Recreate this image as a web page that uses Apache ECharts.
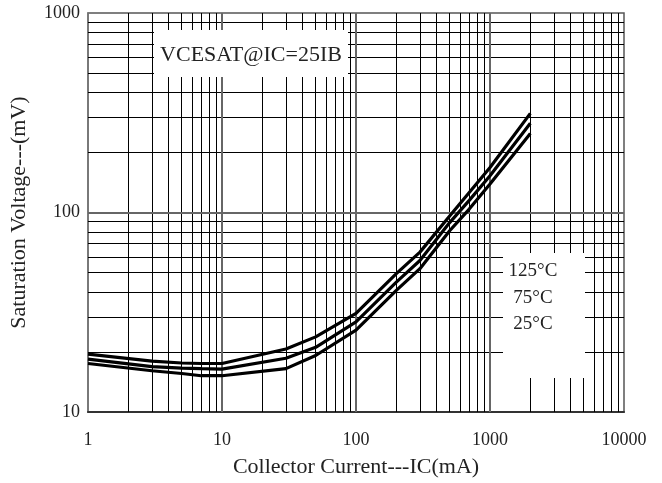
<!DOCTYPE html>
<html>
<head>
<meta charset="utf-8">
<script src="https://cdn.jsdelivr.net/npm/echarts@6/dist/echarts.min.js"></script>
<style>html,body{margin:0;padding:0;background:#fff;}#c{width:662px;height:483px;}</style>
</head>
<body>
<div id="c"></div>
<script>
const currents = [1, 3, 5, 7, 10, 30, 50, 100, 200, 300, 500, 700, 1000, 2000];
const v125 = [19.5, 18.0, 17.6, 17.5, 17.5, 20.7, 23.8, 31.2, 49.4, 63.3, 96, 126, 168, 314];
const v75  = [18.4, 16.9, 16.6, 16.5, 16.4, 18.6, 21.1, 28.3, 44.8, 57.5, 89, 115, 153, 280];
const v25  = [17.5, 16.1, 15.6, 15.2, 15.2, 16.5, 19.2, 25.7, 40.7, 52.3, 81, 104, 139, 249];
const seriesNames = ['125°C', '75°C', '25°C'];
const xMinorLines = [2,3,4,5,6,7,8,9,20,30,40,50,60,70,80,90,200,300,400,500,600,700,800,900,2000,3000,4000,5000,6000,7000,8000,9000];
const yMinorLines = [20,30,40,50,60,70,80,90,200,300,400,500,600,700,800,900];
const xMajorLines = [10, 100, 1000];
const yMajorLines = [100];
const noteText = 'VCESAT@IC=25IB';
const xTitle = 'Collector Current---IC(mA)';
const yTitle = 'Saturation Voltage---(mV)';

const FONT = 'Liberation Serif';
const chart = echarts.init(document.getElementById('c'));
const pair = (arr) => currents.map((x, i) => [x, arr[i]]);
const minorStyle = { color: '#000', width: 1, type: 'solid' };
const majorStyle = { color: '#666', width: 2, type: 'solid' };
const gridLineData = []
  .concat(xMinorLines.map(v => ({ xAxis: v, lineStyle: minorStyle })))
  .concat(yMinorLines.map(v => ({ yAxis: v, lineStyle: minorStyle })))
  .concat(xMajorLines.map(v => ({ xAxis: v, lineStyle: majorStyle })))
  .concat(yMajorLines.map(v => ({ yAxis: v, lineStyle: majorStyle })));

const lineSeries = (name, arr) => ({
  name, type: 'line', data: pair(arr), symbol: 'none', smooth: false, z: 5,
  lineStyle: { color: '#000', width: 3.2 }
});

chart.setOption({
  animation: false,
  backgroundColor: '#fff',
  grid: { left: 88, right: 38, top: 13, bottom: 71, show: true, borderColor: '#555', borderWidth: 1.5 },
  xAxis: {
    type: 'log', logBase: 10, min: 1, max: 10000,
    name: xTitle, nameLocation: 'middle', nameGap: 44,
    nameTextStyle: { fontFamily: FONT, fontSize: 22, color: '#222' },
    axisLine: { show: true, lineStyle: { color: '#333', width: 2 } },
    axisTick: { show: false },
    axisLabel: { fontFamily: FONT, fontSize: 18, color: '#222', margin: 19, formatter: v => String(v) },
    splitLine: { show: false }
  },
  yAxis: {
    type: 'log', logBase: 10, min: 10, max: 1000,
    name: yTitle, nameLocation: 'middle', nameGap: 58,
    nameTextStyle: { fontFamily: FONT, fontSize: 22, color: '#222' },
    axisLine: { show: true, lineStyle: { color: '#777', width: 1.5 } },
    axisTick: { show: false },
    axisLabel: { fontFamily: FONT, fontSize: 18, color: '#222', margin: 8, formatter: v => String(v) },
    splitLine: { show: false }
  },
  series: [
    {
      name: 'grid', type: 'line', data: [], z: 1, silent: true,
      markLine: { silent: true, symbol: 'none', label: { show: false }, animation: false, lineStyle: { type: 'solid' }, data: gridLineData }
    },
    lineSeries(seriesNames[0], v125),
    lineSeries(seriesNames[1], v75),
    lineSeries(seriesNames[2], v25)
  ],
  graphic: [
    { type: 'rect', z: 10, shape: { x: 154, y: 30, width: 194, height: 47 }, style: { fill: '#fff' } },
    { type: 'text', z: 11, x: 251, y: 55, style: { text: noteText, font: '22px "Liberation Serif"', fill: '#222', textAlign: 'center', textVerticalAlign: 'middle' } },
    { type: 'rect', z: 10, shape: { x: 503, y: 253, width: 82, height: 125 }, style: { fill: '#fff' } },
    { type: 'text', z: 11, x: 533, y: 271, style: { text: seriesNames[0], font: '19px "Liberation Serif"', fill: '#222', textAlign: 'center', textVerticalAlign: 'middle' } },
    { type: 'text', z: 11, x: 533, y: 298, style: { text: seriesNames[1], font: '19px "Liberation Serif"', fill: '#222', textAlign: 'center', textVerticalAlign: 'middle' } },
    { type: 'text', z: 11, x: 533, y: 324, style: { text: seriesNames[2], font: '19px "Liberation Serif"', fill: '#222', textAlign: 'center', textVerticalAlign: 'middle' } }
  ]
});
</script>
</body>
</html>
